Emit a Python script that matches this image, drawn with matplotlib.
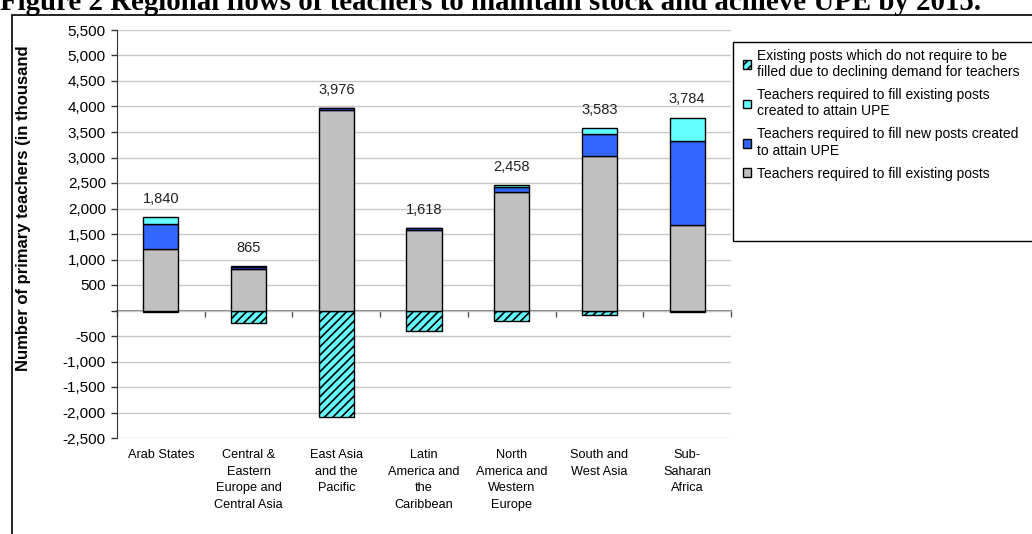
import numpy as np
import matplotlib.pyplot as plt
from matplotlib.patches import Rectangle, Patch

regioes = ["Arab States", "Central &\nEastern\nEurope and\nCentral Asia", "East Asia\nand the\nPacific",
           "Latin\nAmerica and\nthe\nCaribbean", "North\nAmerica and\nWestern\nEurope",
           "South and\nWest Asia", "Sub-\nSaharan\nAfrica"]

# milhares de professores
existentes = [1210, 804, 3940, 1588, 2327, 3039, 1680]
novos_upe = [490, 53, 25, 25, 98, 425, 1647]
existentes_upe = [140, 8, 11, 5, 33, 119, 457]
declinio = [-30, -241, -2084, -405, -210, -98, -20]
totais = [1840, 865, 3976, 1618, 2458, 3583, 3784]

ticks_y = np.arange(-2500, 5501, 500)

cinza = "#C0C0C0"
azul = "#3366FF"
ciano = "#66FFFF"

plt.rcParams['font.family'] = ['Liberation Sans', 'DejaVu Sans']
plt.rcParams['hatch.linewidth'] = 1.2

W, H = 1032, 534
fig = plt.figure(figsize=(W / 100, H / 100), dpi=100)
ax = fig.add_axes([117 / W, 1 - 438 / H, (731 - 117) / W, (438 - 30) / H])

x = np.arange(len(regioes))
larg = 0.4
base2 = np.array(existentes)
base3 = base2 + np.array(novos_upe)

ax.bar(x, declinio, larg, color=ciano, edgecolor="black", hatch="////", linewidth=1, zorder=3)
ax.bar(x, existentes, larg, color=cinza, edgecolor="black", linewidth=1, zorder=3)
ax.bar(x, novos_upe, larg, bottom=base2, color=azul, edgecolor="black", linewidth=1, zorder=3)
ax.bar(x, existentes_upe, larg, bottom=base3, color=ciano, edgecolor="black", linewidth=1, zorder=3)

for xi, t in zip(x, totais):
    ax.annotate(f"{t:,}", (xi, t), xytext=(0, 8), textcoords="offset points",
                ha="center", va="bottom", fontsize=10.5, color="#222222")

ax.set_xlim(-0.5, len(regioes) - 0.5)
ax.set_ylim(-2500, 5500)
ax.set_yticks(ticks_y)
ax.set_yticklabels(["" if v == 0 else f"{v:,}" for v in ticks_y], fontsize=11)
ax.yaxis.grid(True, color="#C8C8C8", linewidth=1, zorder=0)
ax.set_axisbelow(True)
ax.tick_params(axis="y", length=4, width=1, color="#333333", pad=4)

ax.set_xticks(x)
ax.set_xticklabels(regioes, fontsize=9.2, linespacing=1.5, va="top")
ax.tick_params(axis="x", length=0, pad=8)
for s in ["top", "right", "bottom"]:
    ax.spines[s].set_visible(False)
ax.spines["left"].set_color("#333333")

# linha do zero com marcas entre categorias
pos0 = (0 - ax.get_ylim()[0]) / (ax.get_ylim()[1] - ax.get_ylim()[0])
sec = ax.secondary_xaxis(pos0)
sec.set_xticks(np.arange(len(regioes) + 1) - 0.5)
sec.set_xticklabels([])
sec.tick_params(direction="out", length=4, width=1, color="#555555")
sec.spines["bottom"].set_color("#666666")
sec.spines["bottom"].set_linewidth(1.2)

fig.text(24 / W, 1 - 208 / H, "Number of primary teachers (in thousand", rotation=90,
         ha="center", va="center", fontsize=12, fontweight="bold")

fig.text(0, 1 - 10 / H, "Figure 2 Regional flows of teachers to maintain stock and achieve UPE by 2015.",
         ha="left", va="baseline", fontsize=20.8, fontweight="bold", family="Liberation Serif")

# moldura externa
fig.patches.append(Rectangle((12 / W, -0.1), 1.2, 1 - 15 / H + 0.1, transform=fig.transFigure,
                             fill=False, edgecolor="black", linewidth=1.2))
fig.patches.append(Rectangle((733 / W, 1 - 241 / H), 1.0, (241 - 42) / H, transform=fig.transFigure,
                             fill=False, edgecolor="black", linewidth=1, zorder=5))

handles = [Patch(facecolor=ciano, edgecolor="black", hatch="////"),
           Patch(facecolor=ciano, edgecolor="black"),
           Patch(facecolor=azul, edgecolor="black"),
           Patch(facecolor=cinza, edgecolor="black")]
nomes = ["Existing posts which do not require to be\nfilled due to declining demand for teachers",
         "Teachers required to fill existing posts\ncreated to attain UPE",
         "Teachers required to fill new posts created\nto attain UPE",
         "Teachers required to fill existing posts"]
fig.legend(handles, nomes, loc="upper left", bbox_to_anchor=(743 / W, 1 - 49 / H),
           frameon=False, fontsize=10, handlelength=0.6, handleheight=0.6, handletextpad=0.4,
           labelspacing=0.65, borderaxespad=0, borderpad=0)

fig.savefig("out.png", dpi=100)
